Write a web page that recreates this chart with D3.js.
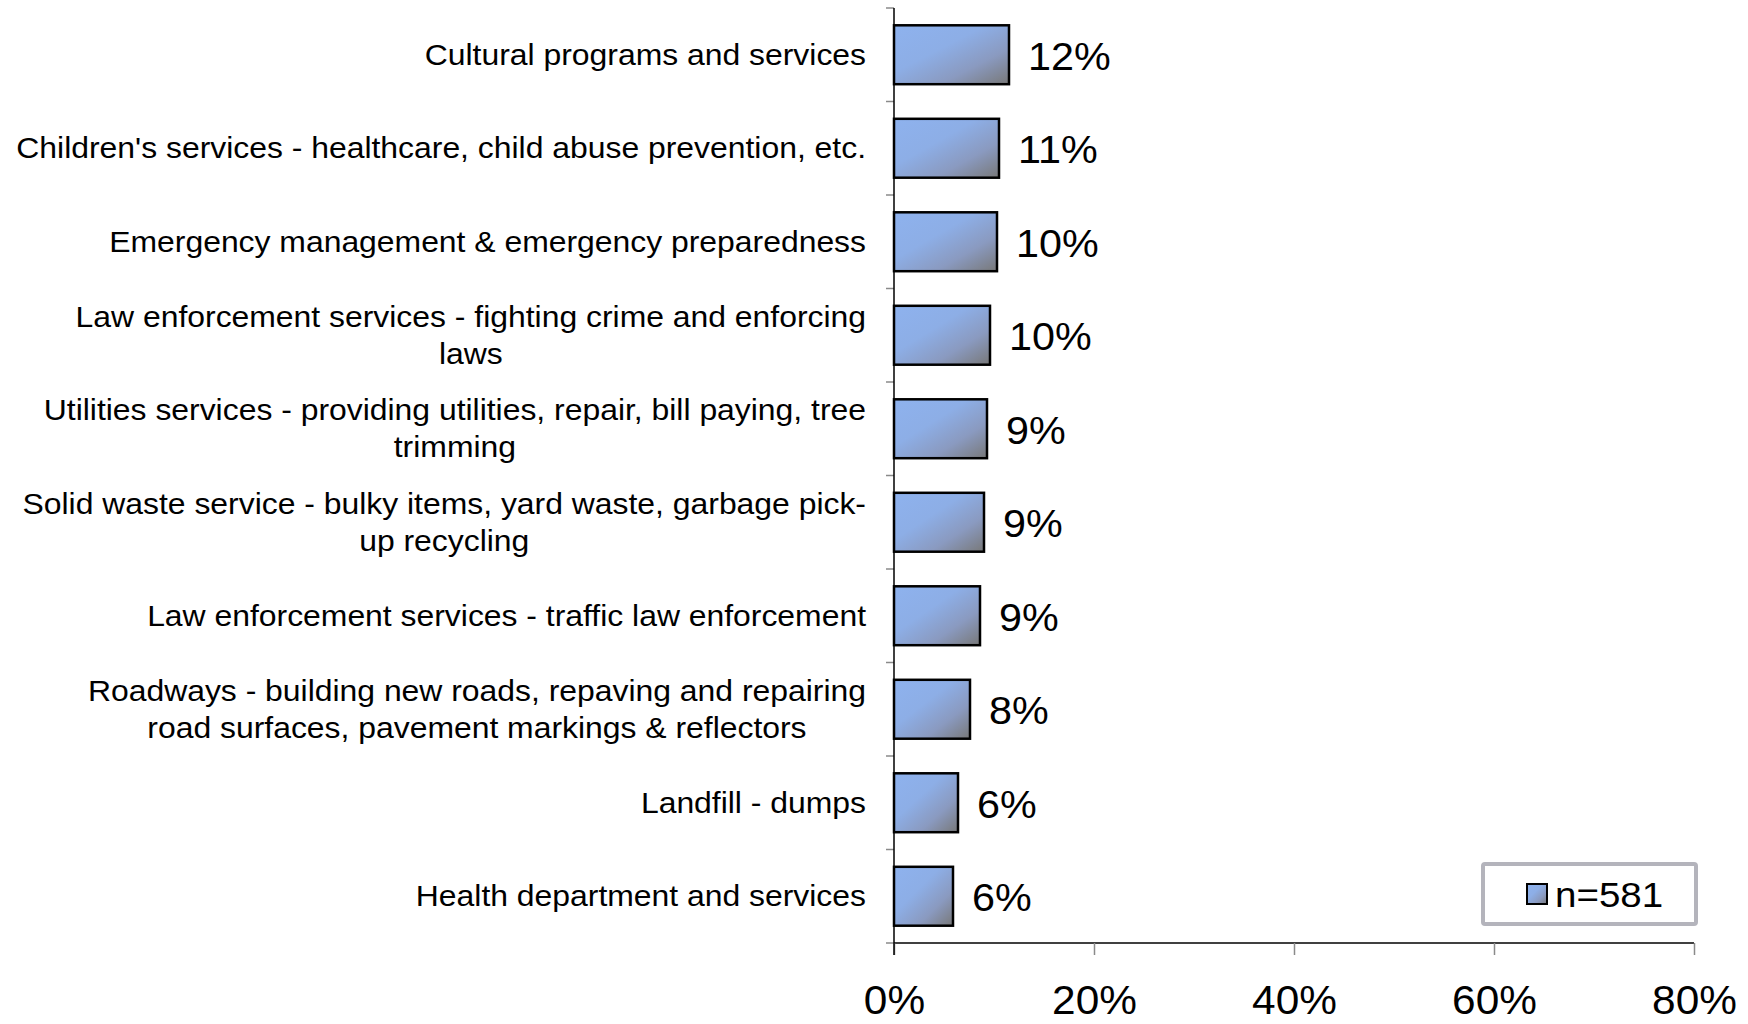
<!DOCTYPE html>
<html>
<head>
<meta charset="utf-8">
<script src="https://cdn.jsdelivr.net/npm/d3@7"></script>
<style>
  html, body { margin: 0; padding: 0; background: #fff; }
  svg { display: block; font-family: "Liberation Sans", Arial, sans-serif; }
</style>
</head>
<body>
<script>
const categories = [
  "Cultural programs and services",
  "Children's services - healthcare, child abuse prevention, etc.",
  "Emergency management & emergency preparedness",
  "Law enforcement services - fighting crime and enforcing\nlaws",
  "Utilities services - providing utilities, repair, bill paying, tree\ntrimming",
  "Solid waste service - bulky items, yard waste, garbage pick-\nup recycling",
  "Law enforcement services - traffic law enforcement",
  "Roadways - building new roads, repaving and repairing\nroad surfaces, pavement markings & reflectors",
  "Landfill - dumps",
  "Health department and services"
];
const values = [0.115, 0.105, 0.103, 0.096, 0.093, 0.090, 0.086, 0.076, 0.064, 0.059];
const xTicks = [0, 0.2, 0.4, 0.6, 0.8];
const legendLabel = "n=581";

const W = 1748, H = 1024;
const margin = { left: 894, right: 54, top: 8, bottom: 81 };

const svg = d3.select("body").append("svg").attr("width", W).attr("height", H);

const defs = svg.append("defs");
const grad = defs.append("linearGradient").attr("id", "barGrad")
  .attr("x1", 0).attr("y1", 0).attr("x2", 1).attr("y2", 1);
grad.append("stop").attr("offset", 0).attr("stop-color", "#8EB2EE");
grad.append("stop").attr("offset", 0.4).attr("stop-color", "#8DAEE6");
grad.append("stop").attr("offset", 0.7).attr("stop-color", "#8A9AC0");
grad.append("stop").attr("offset", 1).attr("stop-color", "#787878");

const x = d3.scaleLinear().domain([0, 0.8]).range([margin.left, W - margin.right]);
const y = d3.scaleBand().domain(categories).range([margin.top, H - margin.bottom])
  .paddingInner(0.37).paddingOuter(0.185);

const stretch = (x0, s) => `translate(${x0},0) scale(${s},1) translate(${-x0},0)`;

// Y axis category ticks
const yTop = margin.top, yBot = H - margin.bottom;
const step = y.step();
const bounds = d3.range(categories.length + 1).map(i => yTop + i * step);
svg.append("g").selectAll("line").data(bounds).join("line")
  .attr("x1", margin.left - 8).attr("x2", margin.left)
  .attr("y1", d => d).attr("y2", d => d)
  .attr("stroke", "#8a8a8a").attr("stroke-width", 1.5);

// X axis
const xAxis = svg.append("g").attr("transform", `translate(0,${yBot})`)
  .call(d3.axisBottom(x).tickValues(xTicks).tickFormat(d3.format(".0%")).tickSize(12).tickPadding(31));
xAxis.select(".domain").attr("stroke", "#000").attr("stroke-width", 1.5)
  .attr("d", `M${x(0)},0H${x(0.8)}`);
xAxis.selectAll(".tick line").attr("stroke", "#8a8a8a").attr("stroke-width", 1.5);
xAxis.selectAll(".tick text").attr("font-size", 40).attr("fill", "#000")
  .attr("font-family", "'Liberation Sans', Arial, sans-serif")
  .attr("transform", "scale(1.06,1)");

svg.append("line").attr("x1", margin.left).attr("x2", margin.left)
  .attr("y1", yTop).attr("y2", yBot + 12)
  .attr("stroke", "#000").attr("stroke-width", 1.5);

// Bars
svg.append("g").selectAll("rect").data(values).join("rect")
  .attr("x", x(0))
  .attr("y", (d, i) => y(categories[i]))
  .attr("width", d => x(d) - x(0))
  .attr("height", y.bandwidth())
  .attr("fill", "url(#barGrad)")
  .attr("stroke", "#000").attr("stroke-width", 2.5);

// Value labels
const fmt = d3.format(".0%");
svg.append("g").selectAll("text").data(values).join("text")
  .attr("x", d => x(d) + 19)
  .attr("y", (d, i) => y(categories[i]) + y.bandwidth() / 2 + 15)
  .attr("transform", d => stretch(x(d) + 19, 1.06))
  .attr("font-size", 39).attr("fill", "#000")
  .text(d => fmt(d));

// Category labels (right edge at 866, stretched horizontally)
const labelRight = 866;
const lineH = 37;
const labG = svg.append("g").attr("transform", stretch(labelRight, 1.1));
const labels = labG.selectAll("text").data(categories).join("text")
  .attr("font-size", 29).attr("fill", "#000")
  .attr("text-anchor", "middle")
  .each(function(d) {
    const lines = d.split("\n");
    const t = d3.select(this);
    const cy = y(d) + y.bandwidth() / 2;
    const first = cy - (lines.length - 1) * lineH / 2 + 10;
    lines.forEach((ln, j) => {
      t.append("tspan").attr("y", first + j * lineH).text(ln);
    });
  });
labels.each(function() {
  const tspans = d3.select(this).selectAll("tspan");
  let maxW = 0;
  tspans.each(function() { maxW = Math.max(maxW, this.getComputedTextLength()); });
  tspans.attr("x", labelRight - maxW / 2);
});

// Legend
const lg = svg.append("g");
lg.append("rect").attr("x", 1483).attr("y", 864).attr("width", 213).attr("height", 60)
  .attr("rx", 2).attr("fill", "#fff").attr("stroke", "#b4b4bc").attr("stroke-width", 4);
lg.append("rect").attr("x", 1527).attr("y", 884).attr("width", 20).attr("height", 20)
  .attr("fill", "url(#barGrad)").attr("stroke", "#000").attr("stroke-width", 2);
lg.append("text").attr("x", 1555).attr("y", 907).attr("font-size", 35).attr("fill", "#000")
  .attr("transform", stretch(1555, 1.1))
  .text(legendLabel);
</script>
</body>
</html>
